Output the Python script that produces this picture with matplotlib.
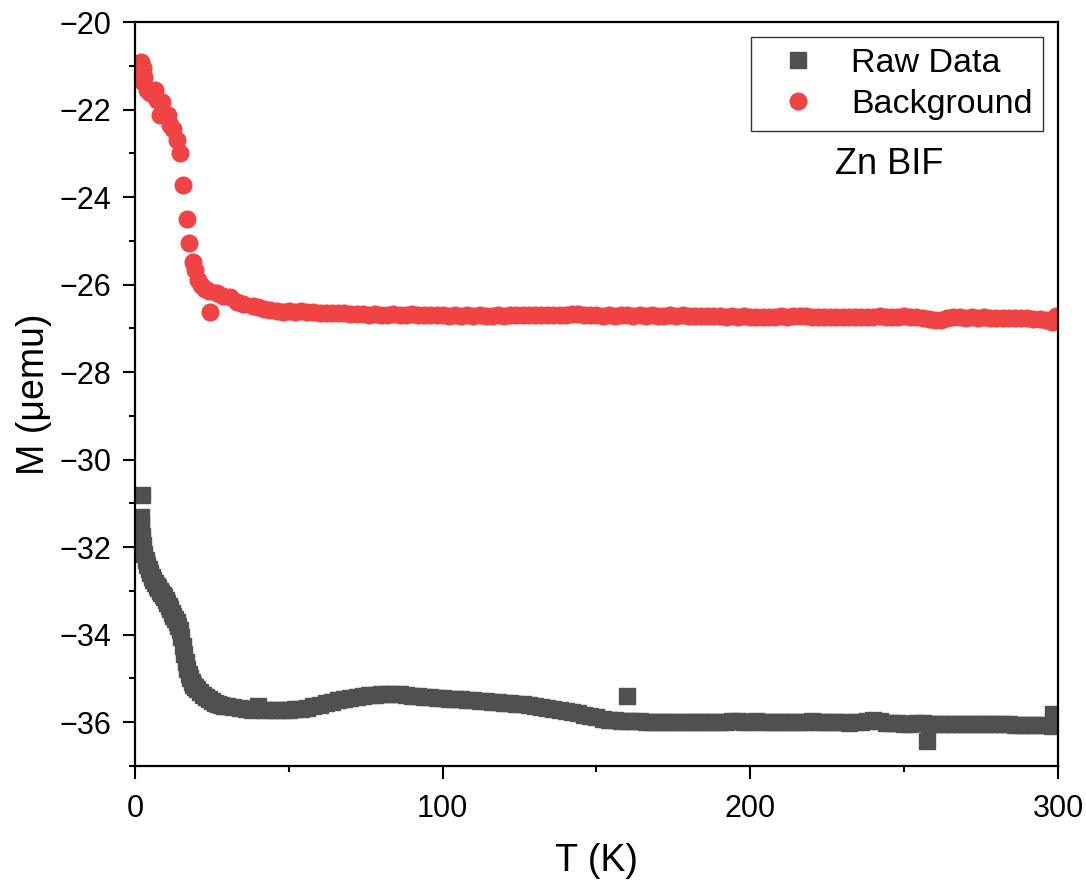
import matplotlib
matplotlib.use("Agg")
import matplotlib.pyplot as plt
from matplotlib.ticker import MultipleLocator

plt.rcParams['font.family'] = ['Liberation Sans', 'DejaVu Sans']

# raw data (T in K, M in uemu)
raw_T = [1.8, 2.0, 2.2, 2.3, 2.5, 3.0, 3.5, 4.0, 4.5, 5.0, 5.5, 6.0, 6.5, 7.0, 7.5, 8.0,
         8.5, 9.0, 9.5, 10.0, 10.5, 11.0, 11.5, 12.0, 12.5, 13.0, 13.5, 14.0, 14.5, 15.0,
         15.5, 16.0, 16.5, 17.0, 17.5, 18.0, 18.5, 19.0, 19.5, 20.0, 21, 22, 23, 24, 25,
         26, 27, 28, 29, 30, 32, 34, 36, 38, 40, 42, 44, 46, 48, 50, 52, 54, 56, 58, 60,
         62, 64, 66, 68, 70, 72, 74, 76, 78, 80, 82, 84, 86, 88, 90, 92, 94, 96, 98, 100,
         102, 104, 106, 108, 110, 112, 114, 116, 118, 120, 122, 124, 126, 128, 130, 132,
         134, 136, 138, 140, 142, 144, 146, 148, 150, 152, 154, 156, 158, 159.8, 160, 162,
         164, 166, 168, 170, 172, 174, 176, 178, 180, 182, 184, 186, 188, 190, 192, 194,
         196, 198, 200, 202, 204, 206, 208, 210, 212, 214, 216, 218, 220, 222, 224, 226,
         228, 230, 232, 234, 236, 238, 240, 242, 244, 246, 248, 250, 252, 254, 256, 257.3,
         258, 260, 262, 264, 266, 268, 270, 272, 274, 276, 278, 280, 282, 284, 286, 288,
         290, 292, 294, 296, 298, 298.5, 299.5]
raw_M = [-31.30, -31.50, -31.75, -30.80, -31.95, -32.15, -32.30, -32.40, -32.50, -32.60,
         -32.68, -32.75, -32.82, -32.88, -32.94, -33.00, -33.05, -33.10, -33.15, -33.20,
         -33.27, -33.34, -33.42, -33.50, -33.58, -33.65, -33.72, -33.80, -33.90, -34.05,
         -34.25, -34.45, -34.62, -34.78, -34.90, -35.00, -35.08, -35.15, -35.20, -35.25,
         -35.32, -35.38, -35.43, -35.48, -35.52, -35.55, -35.58, -35.60, -35.62, -35.64,
         -35.66, -35.68, -35.70, -35.71, -35.62, -35.72, -35.72, -35.72, -35.72, -35.71,
         -35.70, -35.69, -35.67, -35.64, -35.60, -35.57, -35.53, -35.50, -35.47, -35.44,
         -35.42, -35.40, -35.38, -35.37, -35.36, -35.35, -35.35, -35.36, -35.38, -35.40,
         -35.41, -35.42, -35.43, -35.44, -35.45, -35.46, -35.47, -35.48, -35.49, -35.50,
         -35.51, -35.52, -35.53, -35.54, -35.55, -35.56, -35.58, -35.59, -35.61, -35.63,
         -35.65, -35.67, -35.69, -35.71, -35.74, -35.77, -35.80, -35.83, -35.86, -35.89,
         -35.92, -35.94, -35.96, -35.97, -35.40, -35.98, -35.98, -35.98, -35.99, -35.99,
         -35.99, -35.99, -35.99, -35.99, -36.00, -35.99, -35.99, -36.00, -35.99, -35.99,
         -35.99, -35.99, -35.98, -35.98, -35.99, -35.99, -35.98, -35.99, -35.99, -36.00,
         -35.99, -35.99, -35.99, -35.99, -35.99, -35.98, -35.99, -36.00, -36.00, -36.00,
         -36.00, -36.01, -36.00, -36.00, -35.98, -35.96, -35.98, -36.01, -36.02, -36.02,
         -36.03, -36.03, -36.02, -36.02, -36.43, -36.03, -36.03, -36.03, -36.03, -36.04,
         -36.04, -36.04, -36.04, -36.04, -36.05, -36.05, -36.05, -36.05, -36.05, -36.06,
         -36.06, -36.06, -36.06, -36.06, -36.07, -36.08, -35.82, -36.05]

# background
bg_T = [1.85, 2.3, 2.7, 2.9, 2.7, 3.8, 5.0, 6.5, 7.0, 8.7, 8.1, 9.5, 10.8, 11.4, 12.3,
        13.5, 14.6, 15.7, 16.8, 17.6, 18.7, 19.5, 20.6, 21.5, 22.7, 24.4, 24.0, 26.5,
        28.5, 30.9, 33.0, 35.0, 38.4, 40, 42, 44, 46, 48, 50, 52, 54, 56, 58, 60, 62,
        64, 66, 68, 70, 72, 74, 76, 78, 80, 82, 84, 86, 88, 90, 92, 94, 96, 98, 100, 102,
        104, 106, 108, 110, 112, 114, 116, 118, 120, 122, 124, 126, 128, 130, 132, 134,
        136, 138, 140, 142, 144, 146, 148, 150, 152, 154, 156, 158, 160, 162, 164, 166,
        168, 170, 172, 174, 176, 178, 180, 182, 184, 186, 188, 190, 192, 194, 196, 198,
        200, 202, 204, 206, 208, 210, 212, 214, 216, 218, 220, 222, 224, 226, 228, 230,
        232, 234, 236, 238, 240, 242, 244, 246, 248, 250, 252, 254, 256, 258, 260, 262,
        264, 266, 268, 270, 272, 274, 276, 278, 280, 282, 284, 286, 288, 290, 292, 294,
        296, 298, 299.5]
bg_M = [-20.91, -21.00, -21.06, -21.25, -21.36, -21.55, -21.62, -21.55, -21.78, -21.82,
        -22.13, -22.10, -22.13, -22.35, -22.45, -22.70, -23.00, -23.73, -24.49, -25.06,
        -25.48, -25.67, -25.90, -26.00, -26.09, -26.62, -26.15, -26.20, -26.25, -26.28,
        -26.40, -26.45, -26.50, -26.52, -26.55, -26.57, -26.60, -26.62, -26.60, -26.62,
        -26.60, -26.62, -26.63, -26.64, -26.65, -26.64, -26.66, -26.65, -26.67, -26.68,
        -26.67, -26.69, -26.68, -26.70, -26.69, -26.68, -26.70, -26.69, -26.68, -26.70,
        -26.69, -26.70, -26.69, -26.70, -26.71, -26.70, -26.71, -26.70, -26.71, -26.70,
        -26.72, -26.71, -26.70, -26.71, -26.70, -26.69, -26.70, -26.69, -26.70, -26.70,
        -26.69, -26.70, -26.69, -26.70, -26.68, -26.67, -26.69, -26.70, -26.70, -26.71,
        -26.70, -26.71, -26.70, -26.70, -26.71, -26.70, -26.71, -26.70, -26.71, -26.71,
        -26.70, -26.71, -26.70, -26.71, -26.72, -26.71, -26.72, -26.71, -26.72, -26.73,
        -26.72, -26.73, -26.72, -26.73, -26.74, -26.73, -26.74, -26.73, -26.72, -26.73,
        -26.72, -26.71, -26.72, -26.73, -26.74, -26.75, -26.74, -26.75, -26.74, -26.75,
        -26.74, -26.75, -26.74, -26.73, -26.72, -26.73, -26.74, -26.73, -26.72, -26.74,
        -26.75, -26.77, -26.79, -26.80, -26.82, -26.77, -26.75, -26.75, -26.76, -26.75,
        -26.76, -26.75, -26.76, -26.76, -26.77, -26.76, -26.77, -26.76, -26.77, -26.78,
        -26.79, -26.82, -26.86, -26.72]

fig = plt.figure(figsize=(10.86, 8.84), dpi=100)
ax = fig.add_axes([0.1243, 0.1335, 0.8499, 0.8416])

ax.plot(raw_T, raw_M, ls='none', marker='s', ms=12, color='#505050', mec='#505050',
        label='Raw Data')
ax.plot(bg_T, bg_M, ls='none', marker='o', ms=12, color='#F04343', mec='#F04343',
        label='Background')

ax.set_xlim(0, 300)
ax.set_ylim(-37, -20)
ax.xaxis.set_major_locator(MultipleLocator(100))
ax.xaxis.set_minor_locator(MultipleLocator(50))
ax.yaxis.set_major_locator(MultipleLocator(2))
ax.yaxis.set_minor_locator(MultipleLocator(1))
ax.tick_params(which='both', direction='out', width=1.5, labelsize=22, top=False, right=False)
ax.tick_params(which='major', length=9)
ax.tick_params(which='minor', length=4)
ax.tick_params(axis='x', which='major', pad=11)
ax.tick_params(axis='y', which='major', pad=8)
for s in ax.spines.values():
    s.set_linewidth(1.6)

ax.set_xlabel('T (K)', fontsize=27, labelpad=14)
ax.set_ylabel('M (μemu)', fontsize=27, labelpad=5)

leg = ax.legend(loc='upper right', bbox_to_anchor=(0.984, 0.980), borderaxespad=0,
                fontsize=24.5, fancybox=False, edgecolor='#333333', framealpha=1,
                handlelength=2.1, handletextpad=0.5, borderpad=0.32, labelspacing=0.3)
leg.get_frame().set_linewidth(1.0)

ax.text(0.817, 0.808, 'Zn BIF', transform=ax.transAxes, fontsize=26,
        ha='center', va='center')

fig.savefig('out.png', dpi=100)
